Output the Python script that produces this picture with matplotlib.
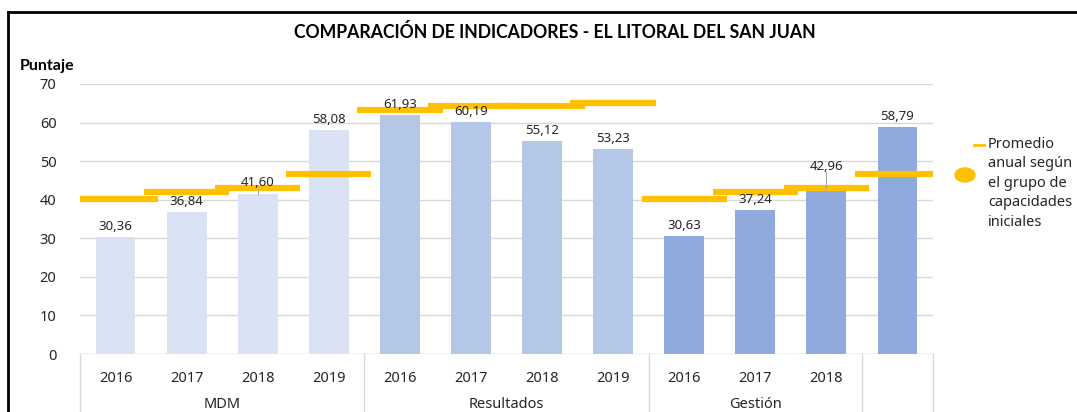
import matplotlib
matplotlib.use("Agg")
import matplotlib.pyplot as plt
from matplotlib.lines import Line2D
from matplotlib.patches import Ellipse

plt.rcParams['font.family'] = ['Noto Sans', 'DejaVu Sans']

# ---- data ----
years = ["2016", "2017", "2018", "2019", "2016", "2017", "2018", "2019", "2016", "2017", "2018", ""]
groups = ["MDM", "Resultados", "Gestión", ""]
group_sizes = [4, 4, 3, 1]
values = [30.36, 36.84, 41.60, 58.08, 61.93, 60.19, 55.12, 53.23, 30.63, 37.24, 42.96, 58.79]
labels = ["30,36", "36,84", "41,60", "58,08", "61,93", "60,19", "55,12", "53,23", "30,63", "37,24", "42,96", "58,79"]
promedio = [40.3, 41.9, 43.0, 46.6, 63.3, 64.3, 64.3, 65.2, 40.3, 41.9, 43.0, 46.6]
group_colors = ["#DAE3F3", "#B4C7E7", "#8FAADC", "#8FAADC"]
title = "COMPARACIÓN DE INDICADORES - EL LITORAL DEL SAN JUAN"
legend_text = "Promedio\nanual según\nel grupo de\ncapacidades\niniciales"

W, H = 1077, 412
fig = plt.figure(figsize=(W / 100, H / 100), dpi=100)
ax = fig.add_axes([80 / W, 1 - 354 / H, (933 - 80) / W, (354 - 84) / H])

colors = []
for c, n in zip(group_colors, group_sizes):
    colors += [c] * n

x = list(range(len(values)))
ax.bar(x, values, width=0.56, color=colors, zorder=2)
ax.hlines(promedio, [i - 0.6 for i in x], [i + 0.6 for i in x], colors="#FFC000",
          linewidth=4.5, zorder=3)

ax.set_xlim(-0.5, len(values) - 0.5)
ax.set_ylim(0, 70)
ax.set_yticks(range(0, 71, 10))
ax.yaxis.grid(True, color="#D9D9D9", linewidth=1.0, zorder=0)
ax.set_axisbelow(True)
for s in ax.spines.values():
    s.set_visible(False)
ax.tick_params(axis='y', length=0, pad=17, labelsize=10.5, labelcolor="#262626")
ax.tick_params(axis='x', length=0)
ax.set_xticks([])
ax.axhline(0, color="#D9D9D9", linewidth=1.0, zorder=1)

# data labels
for i, (v, lab) in enumerate(zip(values, labels)):
    off = 3
    if lab == "42,96":
        off = 11
        ax.plot([i, i], [v, v + 4.2], color="#A6A6A6", linewidth=0.8, zorder=4)
    if lab == "41,60":
        ax.plot([i, i], [v, v + 1.0], color="#A6A6A6", linewidth=0.8, zorder=4)
    ax.annotate(lab, (i, v), xytext=(0, off), textcoords="offset points",
                ha="center", va="bottom", fontsize=9.5, color="#262626", zorder=5)

# category axis (two levels)
trans = ax.get_xaxis_transform()
bounds = [-0.5]
for n in group_sizes:
    bounds.append(bounds[-1] + n)
for b in bounds:
    ax.add_artist(Line2D([b, b], [0, -0.3], transform=trans, color="#D9D9D9",
                         linewidth=1.0, clip_on=False))
for i, y in enumerate(years):
    ax.text(i, -(378 - 354) / 270, y, transform=trans, ha="center", va="center",
            fontsize=10.5, color="#262626")
for g, a, b in zip(groups, bounds[:-1], bounds[1:]):
    ax.text((a + b) / 2, -(405 - 354) / 270, g, transform=trans, ha="center",
            va="center", fontsize=10.5, color="#262626")

# titles
bold_fam = ['Lato', 'DejaVu Sans']
fig.text(555 / W, 1 - 32 / H, title, ha="center", va="center", fontsize=12.7,
         fontweight="bold", color="black", family=bold_fam)
fig.text(20 / W, 1 - 66 / H, "Puntaje", ha="left", va="center", fontsize=11.5,
         fontweight="bold", color="black", family=bold_fam)

# legend
fig.add_artist(Line2D([974 / W, 984 / W], [1 - 145 / H] * 2, color="#FFC000", linewidth=2))
fig.text(988 / W, 1 - 137 / H, legend_text, ha="left", va="top", fontsize=10.5,
         color="#262626", linespacing=1.4)
fig.add_artist(Ellipse((965 / W, 1 - 175 / H), 20 / W, 14 / H, color="#FFC000",
                       transform=fig.transFigure))

# frame (left and top)
fig.add_artist(Line2D([8 / W, 8 / W], [0, 1 - 12 / H], color="black", linewidth=2))
fig.add_artist(Line2D([8 / W, 1], [1 - 12 / H, 1 - 12 / H], color="black", linewidth=2))

fig.savefig("out.png", dpi=100)
